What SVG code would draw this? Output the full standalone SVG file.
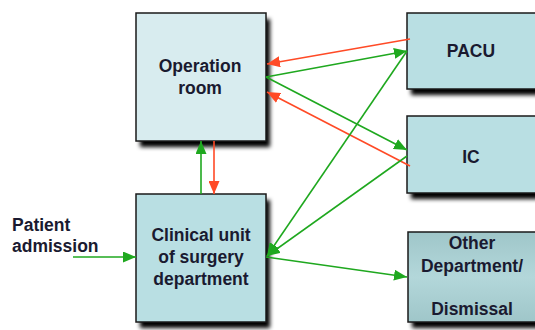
<svg xmlns="http://www.w3.org/2000/svg" width="535" height="330" viewBox="0 0 535 330">
<style>
.box{stroke:#1a1a1a;stroke-width:1.5}
.t{font-family:"Liberation Sans",Arial,sans-serif;font-weight:bold;font-size:17.5px;fill:#1a1a30;text-anchor:middle}
.tl{font-family:"Liberation Sans",Arial,sans-serif;font-weight:bold;font-size:17.5px;fill:#1a1a30}
.g{stroke:#1fa81f;stroke-width:1.6;fill:none;marker-end:url(#ag)}
.r{stroke:#ff4a26;stroke-width:1.6;fill:none;marker-end:url(#ar)}
</style>
<defs>
<filter id="sh" x="-10%" y="-10%" width="130%" height="130%">
<feGaussianBlur stdDeviation="2.2"/>
</filter>
<marker id="ag" markerWidth="14" markerHeight="11" refX="13" refY="5.5" orient="auto" markerUnits="userSpaceOnUse">
<path d="M0,0 L13,5.5 L0,11 z" fill="#1fa81f"/>
</marker>
<marker id="ar" markerWidth="14" markerHeight="11" refX="13" refY="5.5" orient="auto" markerUnits="userSpaceOnUse">
<path d="M0,0 L13,5.5 L0,11 z" fill="#ff4a26"/>
</marker>
<linearGradient id="og" x1="0" y1="0" x2="0" y2="1">
<stop offset="0" stop-color="#9fc6c9"/>
<stop offset="0.5" stop-color="#b3d7da"/>
<stop offset="1" stop-color="#9fc6c9"/>
</linearGradient>
</defs>
<g id="operation-room">
<rect x="140" y="19" width="130" height="128" fill="#000" filter="url(#sh)"/>
<rect class="box" x="136" y="13" width="130" height="128" fill="#d8ecef"/>
<text class="t" x="200" y="72">Operation</text>
<text class="t" x="200" y="94">room</text>
</g>
<g id="pacu">
<rect x="411" y="19" width="130" height="76" fill="#000" filter="url(#sh)"/>
<rect class="box" x="407" y="13" width="135" height="76" fill="#b9dfe3"/>
<text class="t" x="471" y="57">PACU</text>
</g>
<g id="ic">
<rect x="411" y="122" width="130" height="77" fill="#000" filter="url(#sh)"/>
<rect class="box" x="407" y="116" width="135" height="77" fill="#b9dfe3"/>
<text class="t" x="471" y="163">IC</text>
</g>
<g id="clinical-unit">
<rect x="140" y="200" width="130" height="128" fill="#000" filter="url(#sh)"/>
<rect class="box" x="136" y="194" width="130" height="128" fill="#b9dfe3"/>
<text class="t" x="201" y="241">Clinical unit</text>
<text class="t" x="201" y="263">of surgery</text>
<text class="t" x="201" y="285">department</text>
</g>
<g id="other-department">
<rect x="412" y="238" width="130" height="90" fill="#000" filter="url(#sh)"/>
<rect class="box" x="408" y="232" width="135" height="90" fill="url(#og)"/>
<text class="t" x="472" y="249">Other</text>
<text class="t" x="472" y="272">Department/</text>
<text class="t" x="472" y="315">Dismissal</text>
</g>
<g id="patient-admission">
<text class="tl" x="12" y="231">Patient</text>
<text class="tl" x="12" y="252">admission</text>
</g>
<g id="connectors">
<line class="r" x1="410" y1="39" x2="267" y2="64"/>
<line class="g" x1="266" y1="77" x2="407" y2="51"/>
<line class="g" x1="266" y1="77" x2="407" y2="150"/>
<line class="r" x1="410" y1="166" x2="267" y2="92"/>
<line class="g" x1="407" y1="51" x2="267" y2="256"/>
<line class="g" x1="407" y1="156" x2="267" y2="256"/>
<line class="g" x1="266" y1="257" x2="407" y2="277"/>
<line class="g" x1="73" y1="257" x2="136" y2="257"/>
<line class="g" x1="201" y1="194" x2="201" y2="141"/>
<line class="r" x1="214" y1="141" x2="214" y2="194"/>
</g>
</svg>
